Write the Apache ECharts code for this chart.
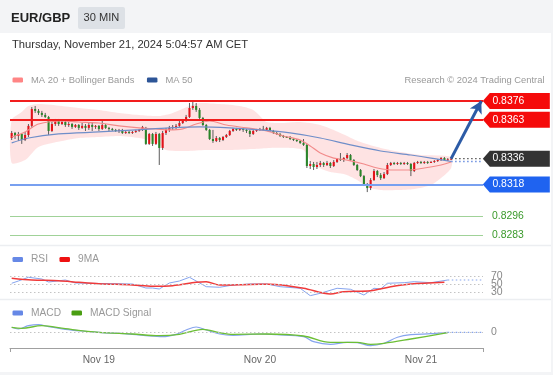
<!DOCTYPE html>
<html><head><meta charset="utf-8">
<script src="https://cdn.jsdelivr.net/npm/echarts/dist/echarts.min.js"></script>
<style>html,body{margin:0;padding:0;background:#f3f4f6}#c{width:553px;height:375px}</style>
</head><body><div id="c"></div>
<script>
// ---- data ----
const dayStarts = [26, 74, 122];
const dayNames = ['Nov 19', 'Nov 20', 'Nov 21'];
const slotCount = 141;
// candles: [open, close, low, high]
const candles = [
[0.83503,0.83538,0.83489,0.83552],[0.83538,0.83517,0.83496,0.83545],[0.83517,0.83531,0.83482,0.83545],[0.83531,0.83489,0.83462,0.83538],
[0.83489,0.83524,0.83482,0.83545],[0.83524,0.83587,0.83510,0.83600],[0.83587,0.83704,0.83573,0.83718],[0.83704,0.83691,0.83677,0.83725],
[0.83691,0.83677,0.83663,0.83704],[0.83677,0.83663,0.83649,0.83691],[0.83663,0.83649,0.83642,0.83677],[0.83649,0.83552,0.83524,0.83656],
[0.83552,0.83600,0.83545,0.83614],[0.83600,0.83621,0.83587,0.83635],[0.83621,0.83600,0.83587,0.83635],[0.83600,0.83614,0.83593,0.83628],
[0.83614,0.83593,0.83580,0.83621],[0.83593,0.83600,0.83580,0.83614],[0.83600,0.83580,0.83566,0.83607],[0.83580,0.83593,0.83573,0.83600],
[0.83593,0.83573,0.83559,0.83600],[0.83573,0.83587,0.83566,0.83607],[0.83587,0.83573,0.83552,0.83600],[0.83573,0.83593,0.83559,0.83607],
[0.83593,0.83580,0.83552,0.83614],[0.83580,0.83587,0.83566,0.83593],[0.83587,0.83566,0.83552,0.83593],[0.83566,0.83593,0.83559,0.83621],
[0.83593,0.83573,0.83566,0.83600],[0.83573,0.83566,0.83552,0.83580],[0.83566,0.83559,0.83552,0.83573],[0.83559,0.83552,0.83545,0.83566],
[0.83552,0.83559,0.83538,0.83566],[0.83559,0.83538,0.83531,0.83566],[0.83538,0.83545,0.83531,0.83552],[0.83545,0.83538,0.83531,0.83552],
[0.83538,0.83545,0.83531,0.83552],[0.83545,0.83552,0.83538,0.83559],[0.83552,0.83559,0.83545,0.83566],[0.83559,0.83580,0.83552,0.83587],
[0.83573,0.83462,0.83455,0.83580],[0.83462,0.83531,0.83455,0.83538],[0.83531,0.83462,0.83448,0.83538],[0.83462,0.83531,0.83455,0.83545],
[0.83531,0.83434,0.83316,0.83538],[0.83434,0.83538,0.83420,0.83552],[0.83538,0.83559,0.83524,0.83573],[0.83559,0.83573,0.83545,0.83587],
[0.83573,0.83580,0.83559,0.83593],[0.83580,0.83587,0.83566,0.83600],[0.83587,0.83607,0.83580,0.83621],[0.83607,0.83621,0.83600,0.83635],
[0.83621,0.83649,0.83614,0.83663],[0.83649,0.83711,0.83642,0.83746],[0.83711,0.83725,0.83698,0.83760],[0.83725,0.83698,0.83684,0.83746],
[0.83698,0.83642,0.83635,0.83711],[0.83642,0.83593,0.83587,0.83649],[0.83593,0.83559,0.83552,0.83600],[0.83559,0.83496,0.83489,0.83566],
[0.83496,0.83482,0.83469,0.83559],[0.83482,0.83503,0.83475,0.83517],[0.83503,0.83489,0.83475,0.83510],[0.83489,0.83510,0.83482,0.83517],
[0.83510,0.83524,0.83503,0.83531],[0.83524,0.83552,0.83517,0.83559],[0.83552,0.83566,0.83545,0.83573],[0.83566,0.83559,0.83552,0.83573],
[0.83559,0.83566,0.83552,0.83573],[0.83566,0.83559,0.83545,0.83573],[0.83559,0.83552,0.83538,0.83566],[0.83552,0.83531,0.83510,0.83559],
[0.83531,0.83552,0.83524,0.83559],[0.83552,0.83559,0.83545,0.83566],[0.83559,0.83566,0.83552,0.83573],[0.83566,0.83559,0.83552,0.83587],
[0.83559,0.83573,0.83552,0.83580],[0.83573,0.83552,0.83545,0.83580],[0.83552,0.83538,0.83531,0.83559],[0.83538,0.83531,0.83524,0.83545],
[0.83531,0.83517,0.83510,0.83538],[0.83517,0.83510,0.83503,0.83524],[0.83510,0.83508,0.83503,0.83517],[0.83508,0.83496,0.83489,0.83517],
[0.83496,0.83489,0.83482,0.83503],[0.83489,0.83482,0.83475,0.83496],[0.83482,0.83469,0.83462,0.83489],[0.83469,0.83455,0.83448,0.83496],
[0.83455,0.83309,0.83295,0.83462],[0.83309,0.83323,0.83288,0.83344],[0.83323,0.83302,0.83281,0.83337],[0.83302,0.83316,0.83288,0.83337],
[0.83316,0.83330,0.83302,0.83344],[0.83330,0.83316,0.83302,0.83337],[0.83316,0.83330,0.83309,0.83344],[0.83330,0.83309,0.83295,0.83337],
[0.83309,0.83337,0.83302,0.83350],[0.83337,0.83357,0.83330,0.83364],[0.83357,0.83350,0.83344,0.83399],[0.83350,0.83364,0.83337,0.83371],
[0.83364,0.83385,0.83357,0.83399],[0.83385,0.83350,0.83344,0.83392],[0.83350,0.83316,0.83309,0.83357],[0.83316,0.83281,0.83274,0.83323],
[0.83281,0.83239,0.83232,0.83288],[0.83239,0.83184,0.83170,0.83246],[0.83184,0.83156,0.83128,0.83191],[0.83156,0.83212,0.83142,0.83225],
[0.83212,0.83274,0.83205,0.83288],[0.83274,0.83246,0.83232,0.83281],[0.83246,0.83225,0.83212,0.83260],[0.83225,0.83253,0.83219,0.83267],
[0.83253,0.83316,0.83246,0.83330],[0.83316,0.83330,0.83309,0.83337],[0.83330,0.83323,0.83316,0.83337],[0.83323,0.83330,0.83316,0.83337],
[0.83330,0.83323,0.83316,0.83337],[0.83323,0.83330,0.83316,0.83337],[0.83330,0.83323,0.83316,0.83337],[0.83323,0.83274,0.83239,0.83330],
[0.83274,0.83330,0.83267,0.83337],[0.83330,0.83337,0.83323,0.83344],[0.83337,0.83330,0.83323,0.83344],[0.83330,0.83337,0.83323,0.83344],
[0.83337,0.83330,0.83323,0.83344],[0.83330,0.83337,0.83330,0.83344],[0.83337,0.83344,0.83330,0.83350],[0.83344,0.83350,0.83337,0.83357],
[0.83350,0.83364,0.83344,0.83371],[0.83364,0.83350,0.83344,0.83371],[0.83350,0.83355,0.83344,0.83364],[0.83355,0.83360,0.83350,0.83371]
];
// [slot index, value] pairs
const bollUpper = [[0,0.83628],[3,0.83684],[5,0.83725],[8,0.83739],[15,0.83725],[20,0.83711],[26,0.83698],[32,0.83677],[38,0.83663],[44,0.83656],[48,0.83677],[53,0.83725],[56,0.83746],[62,0.83739],[68,0.83725],[72,0.83698],[74,0.83656],[76,0.83614],[80,0.83607],[86,0.83614],[92,0.83593],[98,0.83538],[104,0.83475],[110,0.83434],[116,0.83406],[122,0.83385],[131,0.83371]];
const bollLower = [[0,0.83330],[4,0.83350],[8,0.83441],[15,0.83482],[20,0.83503],[26,0.83510],[32,0.83517],[38,0.83503],[43,0.83475],[46,0.83420],[52,0.83413],[58,0.83420],[65,0.83420],[72,0.83427],[77,0.83434],[83,0.83434],[87,0.83420],[90,0.83316],[95,0.83267],[99,0.83253],[103,0.83212],[106,0.83163],[110,0.83142],[115,0.83142],[120,0.83149],[125,0.83177],[128,0.83225],[131,0.83295]];
const ma20 = [[0,0.83510],[4,0.83545],[8,0.83600],[15,0.83621],[20,0.83614],[26,0.83607],[32,0.83587],[38,0.83573],[43,0.83566],[47,0.83559],[51,0.83566],[55,0.83600],[59,0.83621],[64,0.83593],[70,0.83573],[76,0.83552],[81,0.83517],[86,0.83489],[89,0.83448],[92,0.83399],[96,0.83364],[100,0.83350],[105,0.83323],[109,0.83295],[114,0.83281],[118,0.83281],[123,0.83295],[128,0.83316],[131,0.83337]];
const ma50 = [[0,0.83469],[5,0.83503],[14,0.83531],[26,0.83545],[37,0.83559],[47,0.83573],[56,0.83580],[65,0.83573],[74,0.83559],[83,0.83538],[92,0.83503],[101,0.83455],[110,0.83413],[119,0.83385],[125,0.83364],[131,0.83340]];
const lastPriceExt = [[131,0.8336],[140,0.8336]];
const ma50Ext = [[131,0.8334],[140,0.8334]];
const resistanceLevels = [0.8376, 0.8363];
const lastPrice = 0.8336;
const supportLevel = 0.8318;
const targetLevels = [0.8296, 0.8283];
const arrowFrom = [131, 0.8336];
const arrowTo = [140, 0.8376];

const rsi = [[0,51.8],[2,57.5],[5,66.8],[9,62.5],[11,55],[16,60],[19,52.5],[26,51.3],[36,50],[40,40],[42,40],[44,37.5],[47,52.5],[50,57.5],[53,66.8],[58,43.3],[62,41.8],[66,47.5],[71,50],[76,50],[80,43.3],[86,39.3],[89,20.8],[92,26.8],[97,39.3],[101,36.8],[105,22.5],[108,39.3],[110,37.5],[112,51.8],[117,53.3],[120,55.8],[125,53.3],[130,60]];
const rsi9ma = [[0,64.3],[6,60],[14,58.3],[20,54.3],[26,50.8],[36,47.5],[42,44.3],[48,45.8],[55,54.3],[58,55.8],[62,47.5],[71,48.8],[77,49.3],[87,39.3],[95,25],[99,30.8],[107,33.3],[113,43.3],[119,50],[129,54.3]];
const rsiExt = [[130,60],[140,60]];
const rsiLevels = [70, 50, 30];

const macd = [[0,5.2],[2,3.5],[5,6.8],[8,7.8],[11,5.8],[16,3.2],[21,1.5],[26,0.2],[36,-1.8],[41,-3.5],[45,-4.2],[49,-1.8],[52,2.5],[55,5.5],[58,2.5],[62,-1.5],[66,-2.8],[74,-1.5],[79,-2.2],[87,-4.2],[90,-9.2],[95,-11.8],[100,-9.8],[103,-10.2],[107,-13.2],[111,-10.8],[115,-4.8],[119,-2.2],[125,-1.2],[130,0.2]];
const macdSignal = [[0,5.2],[3,4.2],[9,6.8],[16,3.8],[26,0.2],[36,-1.5],[44,-3.2],[50,-1.8],[57,3.2],[62,-0.2],[66,-1.8],[76,-1.5],[87,-3.5],[95,-9.8],[103,-9.8],[107,-11.8],[111,-10.8],[119,-6.5],[130,-0.2]];
const macdExt = [[130,0.2],[140,0.2]];

// ---- chart ----
const FONT = 'Liberation Sans, Arial, sans-serif';
const categories = Array.from({length: slotCount}, (_, i) => String(i));
const chart = echarts.init(document.getElementById('c'), null, {renderer: 'canvas'});

const tagPath = 'path://M0,8L7,0L67,0L67,16L7,16Z';
function tag(value, color) {
  return {
    coord: [slotCount - 1, value], name: value.toFixed(4),
    symbol: tagPath, symbolSize: [67, 16], symbolOffset: [35, 0],
    itemStyle: {color: color},
    label: {show: true, position: 'inside', offset: [-8, 0], color: '#fff', fontSize: 10.4, fontFamily: FONT, formatter: '{b}'}
  };
}
// horizontal level across the whole plot width, y from the price scale
function levelSeries(name, values, color, width, labelColor) {
  return {
    type: 'custom', name: name, xAxisIndex: 0, yAxisIndex: 0, silent: true, animation: false, z: 4, clip: false,
    data: values.map(v => [0, v]),
    encode: {x: 0, y: 1},
    renderItem(params, api) {
      const cs = params.coordSys;
      const v = api.value(1);
      const y = Math.round(api.coord([0, v])[1]) + (width % 2 ? 0.5 : 0);
      const children = [{type: 'line', shape: {x1: cs.x, y1: y, x2: cs.x + cs.width, y2: y}, style: {stroke: color, lineWidth: width}}];
      if (labelColor) {
        children.push({type: 'text', x: cs.x + cs.width + 9, y: y, style: {text: v.toFixed(4), fill: labelColor, font: '10.4px ' + FONT, verticalAlign: 'middle'}});
      }
      return {type: 'group', children: children};
    }
  };
}
const xBase = {type: 'category', data: categories, boundaryGap: true};
const lineBase = {type: 'line', showSymbol: false, symbol: 'none', animation: false, silent: true};

chart.setOption({
  animation: false,
  textStyle: {fontFamily: FONT},
  graphic: [
    {type: 'rect', shape: {x: 0, y: 33, width: 551, height: 339}, style: {fill: '#fff'}, z: -10, silent: true},
    {type: 'line', shape: {x1: 0, y1: 245.5, x2: 551, y2: 245.5}, style: {stroke: '#eceef1', lineWidth: 1.5}, silent: true},
    {type: 'line', shape: {x1: 0, y1: 299.5, x2: 551, y2: 299.5}, style: {stroke: '#eceef1', lineWidth: 1.5}, silent: true},
    {type: 'text', x: 11, y: 18, style: {text: 'EUR/GBP', fill: '#222', font: 'bold 13px ' + FONT, verticalAlign: 'middle'}},
    {type: 'rect', shape: {x: 78, y: 7, width: 47, height: 22, r: 2}, style: {fill: '#dde1e6'}},
    {type: 'text', x: 83.5, y: 18, style: {text: '30 MIN', fill: '#333', font: '11.1px ' + FONT, verticalAlign: 'middle'}},
    {type: 'text', x: 12, y: 45, style: {text: 'Thursday, November 21, 2024 5:04:57 AM CET', fill: '#333', font: '11.2px ' + FONT, verticalAlign: 'middle'}},
    {type: 'text', x: 544.5, y: 80.5, style: {text: 'Research \u00a9 2024 Trading Central', fill: '#999', font: '9.4px ' + FONT, align: 'right', verticalAlign: 'middle'}}
  ],
  legend: [
    {left: 12.5, top: 75.5, padding: 0, itemWidth: 10.5, itemHeight: 5, itemGap: 12.5, icon: 'roundRect', selectedMode: false,
     textStyle: {color: '#999', fontSize: 9.4, padding: [0, 0, 0, 3]},
     data: [{name: 'MA 20 + Bollinger Bands', itemStyle: {color: '#ff8585'}}, {name: 'MA 50', itemStyle: {color: '#2d5597'}}]},
    {left: 12.5, top: 254.5, padding: 0, itemWidth: 10.5, itemHeight: 5, itemGap: 11.5, icon: 'roundRect', selectedMode: false,
     textStyle: {color: '#999', fontSize: 10.2, padding: [0, 0, 0, 3]},
     data: [{name: 'RSI', itemStyle: {color: '#6688e6'}}, {name: '9MA', itemStyle: {color: '#ee1111'}}]},
    {left: 12.5, top: 308, padding: 0, itemWidth: 10.5, itemHeight: 5, itemGap: 10.5, icon: 'roundRect', selectedMode: false,
     textStyle: {color: '#999', fontSize: 10.2, padding: [0, 0, 0, 3]},
     data: [{name: 'MACD', itemStyle: {color: '#6688e6'}}, {name: 'MACD Signal', itemStyle: {color: '#4a9e12'}}]}
  ],
  grid: [
    {left: 10, right: 70, top: 92, bottom: 132, outerBoundsMode: 'none'},
    {left: 10, right: 70, top: 270, bottom: 79, outerBoundsMode: 'none'},
    {left: 10, right: 70, top: 320, bottom: 27, outerBoundsMode: 'none'}
  ],
  xAxis: [
    Object.assign({gridIndex: 0, show: false}, xBase),
    Object.assign({gridIndex: 1, show: false}, xBase),
    Object.assign({gridIndex: 2,
      axisLine: {show: true, onZero: false, lineStyle: {color: '#a0a0a0', width: 1}},
      axisTick: {show: true, length: 4, interval: (i) => i === 0, lineStyle: {color: '#a0a0a0'}},
      axisLabel: {show: true, color: '#666', fontSize: 10.2, margin: 7,
        interval: (i) => dayStarts.indexOf(i) >= 0,
        formatter: (v, i) => { const k = dayStarts.indexOf(Number(v)); return k >= 0 ? dayNames[k] : ''; }},
      splitLine: {show: false}}, xBase)
  ],
  yAxis: [
    {gridIndex: 0, type: 'value', min: 0.82775, max: 0.83822, show: false, splitLine: {show: false}},
    {gridIndex: 1, type: 'value', min: 20, max: 85, show: false, splitLine: {show: false}},
    {gridIndex: 2, type: 'value', min: -15.5, max: 12.5, show: false, splitLine: {show: false}}
  ],
  series: [
    {type: 'custom', name: 'bollinger', xAxisIndex: 0, yAxisIndex: 0, silent: true, animation: false,
     data: [bollUpper[0]],
     renderItem(params, api) {
       const pts = bollUpper.map(p => api.coord(p)).concat(bollLower.slice().reverse().map(p => api.coord(p)));
       return {type: 'polygon', shape: {points: pts, smooth: 0.25}, style: {fill: 'rgba(250,150,150,0.27)'}};
     }},
    Object.assign({name: 'MA 20 + Bollinger Bands', xAxisIndex: 0, yAxisIndex: 0, data: ma20, smooth: 0.3,
      lineStyle: {color: '#f28b8b', width: 1.2}, itemStyle: {color: '#f28b8b'}}, lineBase),
    Object.assign({name: 'MA 50', xAxisIndex: 0, yAxisIndex: 0, data: ma50, smooth: 0.3,
      lineStyle: {color: '#6f8ec9', width: 1.2}, itemStyle: {color: '#6f8ec9'}}, lineBase),
    {type: 'custom', name: 'candles', xAxisIndex: 0, yAxisIndex: 0, silent: true, animation: false,
     data: candles.map((c, i) => [i, c[0], c[1], c[2], c[3]]),
     encode: {x: 0, y: [1, 2, 3, 4]},
     renderItem(params, api) {
       const i = api.value(0), o = api.value(1), c = api.value(2), l = api.value(3), h = api.value(4);
       const pO = api.coord([i, o]), pC = api.coord([i, c]), pL = api.coord([i, l]), pH = api.coord([i, h]);
       const w = api.size([1, 0])[0] * 0.62;
       const up = c >= o;
       const top = Math.min(pO[1], pC[1]);
       const hgt = Math.max(1, Math.abs(pO[1] - pC[1]));
       return {type: 'group', children: [
         {type: 'line', shape: {x1: pL[0], y1: pL[1], x2: pH[0], y2: pH[1]}, style: {stroke: '#5c5c5c', lineWidth: 1}},
         {type: 'rect', shape: {x: pO[0] - w / 2, y: top, width: w, height: hgt}, style: {fill: up ? '#e3121a' : '#2a8529'}}
       ]};
     }},
    levelSeries('resistance', resistanceLevels, '#f21d1d', 2),
    levelSeries('support', [supportLevel], '#78a0f0', 2),
    levelSeries('targets', targetLevels, '#a0d298', 1, '#3a9a2b'),
    Object.assign({name: 'lastExt', xAxisIndex: 0, yAxisIndex: 0, data: lastPriceExt,
      lineStyle: {color: '#555', width: 1.3, type: [1.5, 2.5]}}, lineBase),
    Object.assign({name: 'ma50Ext', xAxisIndex: 0, yAxisIndex: 0, data: ma50Ext, z: 5,
      lineStyle: {color: '#6a8ee0', width: 1.3, type: [1.5, 2.5]},
      markLine: {symbol: 'none', silent: true, animation: false,
        lineStyle: {type: 'solid'},
        data: [
          [{coord: arrowFrom, symbol: 'none', lineStyle: {color: '#2c5ba6', width: 3, type: 'solid'}, label: {show: false}},
           {coord: arrowTo, symbol: 'arrow', symbolSize: [10, 12]}]
        ]},
      markPoint: {silent: true, animation: false,
        data: [
          ...resistanceLevels.map(v => tag(v, '#f50a0a')),
          tag(lastPrice, '#333333'),
          tag(supportLevel, '#1f63f0')
        ]}}, lineBase),
    Object.assign({name: 'RSI', xAxisIndex: 1, yAxisIndex: 1, data: rsi,
      lineStyle: {color: '#86a4ee', width: 1}, itemStyle: {color: '#86a4ee'},
      markLine: {symbol: 'none', silent: true, animation: false,
        lineStyle: {color: '#c4c4c4', width: 1, type: [1.5, 2.5]},
        label: {show: true, position: 'end', distance: 8, color: '#888', fontSize: 10.5, formatter: '{c}'},
        data: rsiLevels.map(v => ({yAxis: v}))}}, lineBase),
    Object.assign({name: '9MA', xAxisIndex: 1, yAxisIndex: 1, data: rsi9ma, smooth: 0.3,
      lineStyle: {color: '#f03a3a', width: 1.5}, itemStyle: {color: '#f03a3a'}}, lineBase),
    Object.assign({name: 'rsiExt', xAxisIndex: 1, yAxisIndex: 1, data: rsiExt,
      lineStyle: {color: '#86a4ee', width: 1.2, type: [1.5, 2.5]}}, lineBase),
    Object.assign({name: 'MACD', xAxisIndex: 2, yAxisIndex: 2, data: macd, smooth: 0.35,
      lineStyle: {color: '#86a4ee', width: 1.2}, itemStyle: {color: '#86a4ee'},
      markLine: {symbol: 'none', silent: true, animation: false,
        lineStyle: {color: '#c4c4c4', width: 1, type: [1.5, 2.5]},
        label: {show: true, position: 'end', distance: 8, color: '#888', fontSize: 10.5, formatter: '{c}'},
        data: [{yAxis: 0}]}}, lineBase),
    Object.assign({name: 'MACD Signal', xAxisIndex: 2, yAxisIndex: 2, data: macdSignal, smooth: 0.35,
      lineStyle: {color: '#6cbf35', width: 1.3}, itemStyle: {color: '#6cbf35'}}, lineBase),
    Object.assign({name: 'macdExt', xAxisIndex: 2, yAxisIndex: 2, data: macdExt,
      lineStyle: {color: '#86a4ee', width: 1.2, type: [1.5, 2.5]}}, lineBase),
    {type: 'custom', name: 'axisEndTick', xAxisIndex: 2, yAxisIndex: 2, silent: true, animation: false, clip: false,
     data: [[0, 0]], encode: {x: 0, y: 1},
     renderItem(params) {
       const cs = params.coordSys;
       const x = Math.round(cs.x + cs.width) + 0.5, y = cs.y + cs.height;
       return {type: 'line', shape: {x1: x, y1: y, x2: x, y2: y + 4}, style: {stroke: '#a0a0a0', lineWidth: 1}};
     }}
  ]
});
</script>
</body></html>
